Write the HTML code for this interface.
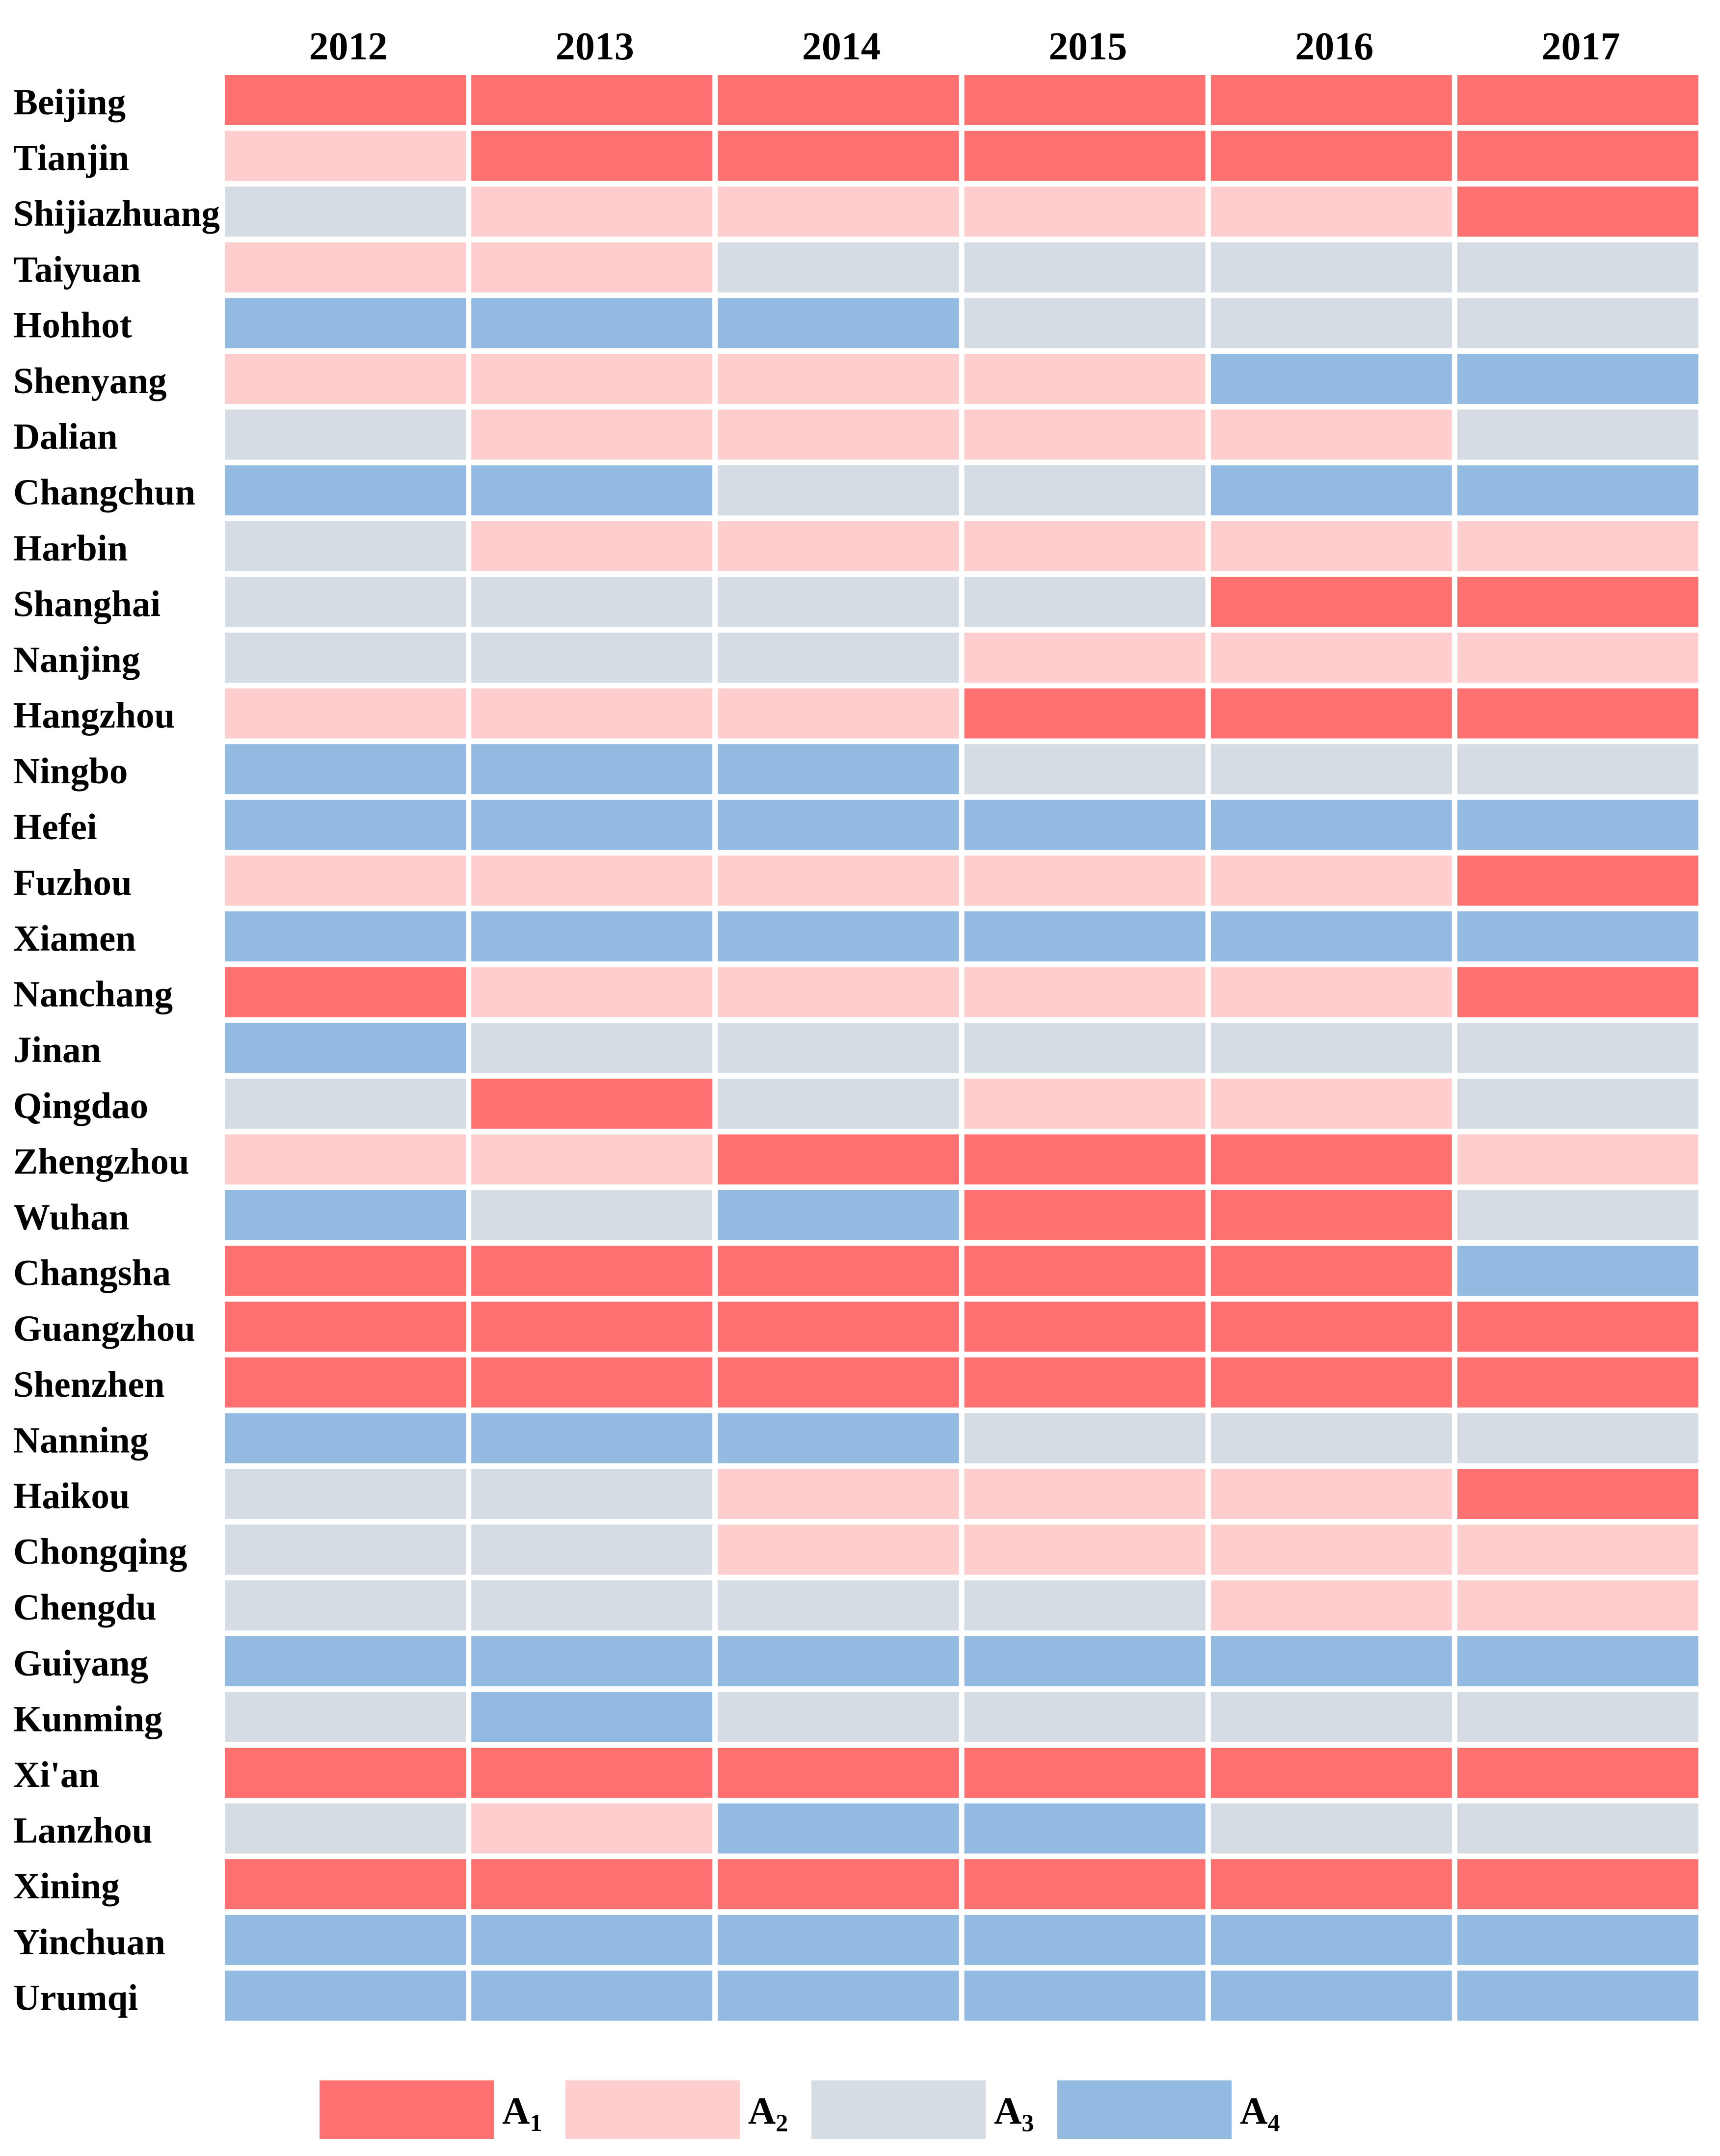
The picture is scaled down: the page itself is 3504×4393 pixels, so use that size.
<!DOCTYPE html>
<html><head><meta charset="utf-8"><style>
html,body{margin:0;padding:0;background:#fff;}
svg{display:block;}
text{font-family:"Liberation Serif","DejaVu Serif",serif;font-weight:bold;fill:#000;}
</style></head>
<body>
<svg id="chart" width="3504" height="4393" viewBox="0 0 3504 4393" xmlns="http://www.w3.org/2000/svg">
<g id="cells"></g>
<g id="ylabels"></g>
<g id="xlabels"></g>
<g id="legend"></g>
</svg>
<script>
const years = ["2012","2013","2014","2015","2016","2017"];
const cities = ["Beijing","Tianjin","Shijiazhuang","Taiyuan","Hohhot","Shenyang","Dalian","Changchun","Harbin","Shanghai","Nanjing","Hangzhou","Ningbo","Hefei","Fuzhou","Xiamen","Nanchang","Jinan","Qingdao","Zhengzhou","Wuhan","Changsha","Guangzhou","Shenzhen","Nanning","Haikou","Chongqing","Chengdu","Guiyang","Kunming","Xi'an","Lanzhou","Xining","Yinchuan","Urumqi"];
const classes = [
[1,1,1,1,1,1],[2,1,1,1,1,1],[3,2,2,2,2,1],[2,2,3,3,3,3],[4,4,4,3,3,3],
[2,2,2,2,4,4],[3,2,2,2,2,3],[4,4,3,3,4,4],[3,2,2,2,2,2],[3,3,3,3,1,1],
[3,3,3,2,2,2],[2,2,2,1,1,1],[4,4,4,3,3,3],[4,4,4,4,4,4],[2,2,2,2,2,1],
[4,4,4,4,4,4],[1,2,2,2,2,1],[4,3,3,3,3,3],[3,1,3,2,2,3],[2,2,1,1,1,2],
[4,3,4,1,1,3],[1,1,1,1,1,4],[1,1,1,1,1,1],[1,1,1,1,1,1],[4,4,4,3,3,3],
[3,3,2,2,2,1],[3,3,2,2,2,2],[3,3,3,3,2,2],[4,4,4,4,4,4],[3,4,3,3,3,3],
[1,1,1,1,1,1],[3,2,4,4,3,3],[1,1,1,1,1,1],[4,4,4,4,4,4],[4,4,4,4,4,4]];
const legendLabels = ["A","A","A","A"];
const legendSubs = ["1","2","3","4"];

const colors = {1:"#FF7070",2:"#FECDCE",3:"#D5DCE4",4:"#93BBE1"};
const NS = "http://www.w3.org/2000/svg";
const x0 = 458, colPitch = 502.2, cellW = 491;
const y0 = 153, rowPitch = 113.6, cellH = 102;
const xScale = i => x0 + i * colPitch;
const yScale = j => y0 + j * rowPitch;

const gc = document.getElementById('cells');
classes.forEach((row, j) => {
  row.forEach((v, i) => {
    const r = document.createElementNS(NS, 'rect');
    r.setAttribute('x', xScale(i)); r.setAttribute('y', yScale(j));
    r.setAttribute('width', cellW); r.setAttribute('height', cellH);
    r.setAttribute('fill', colors[v]);
    
    
    gc.appendChild(r);
  });
});
const gy = document.getElementById('ylabels');
cities.forEach((c, j) => {
  const t = document.createElementNS(NS, 'text');
  t.setAttribute('x', 27); t.setAttribute('y', yScale(j) + cellH/2 + 29);
  t.setAttribute('font-size', '75');
  t.textContent = c;
  
  
  gy.appendChild(t);
});
const gx = document.getElementById('xlabels');
years.forEach((y, i) => {
  const t = document.createElementNS(NS, 'text');
  t.setAttribute('x', xScale(i) + cellW/2 + 6); t.setAttribute('y', 121);
  t.setAttribute('font-size', '80'); t.setAttribute('text-anchor', 'middle');
  t.textContent = y;
  
  
  gx.appendChild(t);
});
const gl = document.getElementById('legend');
legendSubs.forEach((s, k) => {
  const lx = 651 + k * 501;
  const r = document.createElementNS(NS, 'rect');
  r.setAttribute('x', lx); r.setAttribute('y', 4239);
  r.setAttribute('width', 355); r.setAttribute('height', 119);
  r.setAttribute('fill', colors[k+1]);
  
  
  gl.appendChild(r);
  const t = document.createElementNS(NS, 'text');
  t.setAttribute('x', lx + 372); t.setAttribute('y', 4327);
  t.setAttribute('font-size', '78');
  
  
  t.appendChild(document.createTextNode(legendLabels[k]));
  const ts = document.createElementNS(NS, 'tspan');
  ts.setAttribute('font-size', '50'); ts.setAttribute('dy', '15');
  ts.textContent = s;
  t.appendChild(ts);
  gl.appendChild(t);
});
</script>
</body></html>
